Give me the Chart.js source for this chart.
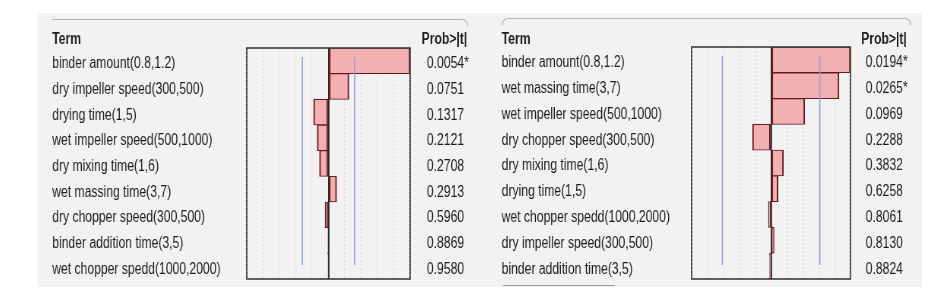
<!DOCTYPE html>
<html>
<head>
<meta charset="utf-8">
<script src="https://cdn.jsdelivr.net/npm/chart.js@4.4.0/dist/chart.umd.min.js"></script>
<style>
    body { margin: 0; width: 944px; height: 294px; overflow: hidden; position: relative; background: #fff; }
    .bg { position: absolute; left: 37px; top: 13px; width: 885px; height: 274px; background: #f2f2f2; }
    .panel { position: absolute; top: 13px; height: 274px; transform: scaleX(0.76); transform-origin: 0 0; }
    #leftPanel { left: 37px; width: 572px; }
    #rightPanel { left: 472px; width: 592px; }
    .rule { position: absolute; border-color: #b4b4b4; border-style: solid; border-width: 0; }
</style>
</head>
<body>
<div class="bg"></div>
<div class="rule" style="left:52px;top:19px;width:415px;height:6px;border-top-width:1px;border-right-width:1px;border-top-right-radius:6px;"></div>
<div class="rule" style="left:502px;top:18px;width:407px;height:6px;border-top-width:1px;border-left-width:1px;border-right-width:1px;border-top-left-radius:6px;border-top-right-radius:6px;"></div>
<div class="rule" style="left:503px;top:285px;width:112px;height:0;border-top-width:1px;border-color:#a0a0a0;"></div>
<div class="panel" id="leftPanel"><canvas id="leftChart" width="572" height="274"></canvas></div>
<div class="panel" id="rightPanel"><canvas id="rightChart" width="592" height="274"></canvas></div>
<script>
// Left report: sorted parameter estimates
const leftTerms = [
    'binder amount(0.8,1.2)',
    'dry impeller speed(300,500)',
    'drying time(1,5)',
    'wet impeller speed(500,1000)',
    'dry mixing time(1,6)',
    'wet massing time(3,7)',
    'dry chopper speed(300,500)',
    'binder addition time(3,5)',
    'wet chopper spedd(1000,2000)'
];
const leftEstimates = [5.0, 1.25, -0.91, -0.69, -0.55, 0.50, -0.21, -0.06, -0.02];
const leftProb = ['0.0054*', '0.0751', '0.1317', '0.2121', '0.2708', '0.2913', '0.5960', '0.8869', '0.9580'];
const leftCrit = 1.6;

// Right report
const rightTerms = [
    'binder amount(0.8,1.2)',
    'wet massing time(3,7)',
    'wet impeller speed(500,1000)',
    'dry chopper speed(300,500)',
    'dry mixing time(1,6)',
    'drying time(1,5)',
    'wet chopper spedd(1000,2000)',
    'dry impeller speed(300,500)',
    'binder addition time(3,5)'
];
const rightEstimates = [5.0, 4.28, 2.12, -1.17, 0.78, 0.44, -0.17, 0.19, -0.10];
const rightProb = ['0.0194*', '0.0265*', '0.0969', '0.2288', '0.3832', '0.6258', '0.8061', '0.8130', '0.8824'];
const rightCrit = 3.07;

const FONT = '"Liberation Sans", Arial, sans-serif';
const TEXT = '#1c1c1c';

/**
 * Box, reference lines and column headers.
 */
const panelDecor = {
    id: 'panelDecor',
    afterDatasetsDraw(chart, args, opts) {
        const { ctx, chartArea: a, scales } = chart;
        ctx.save();
        ctx.strokeStyle = '#8fa0dc';
        ctx.lineWidth = 1.6;
        [-opts.crit, opts.crit].forEach(v => {
            const px = scales.x.getPixelForValue(v);
            ctx.beginPath();
            ctx.moveTo(px, a.top + 9);
            ctx.lineTo(px, a.bottom - 14);
            ctx.stroke();
        });
        ctx.strokeStyle = '#3a3a3a';
        ctx.lineWidth = 1.6;
        ctx.strokeRect(a.left, a.top, a.right - a.left, a.bottom - a.top);

        ctx.font = `bold 16px ${FONT}`;
        ctx.fillStyle = TEXT;
        ctx.textBaseline = 'alphabetic';
        ctx.textAlign = 'left';
        ctx.fillText('Term', scales.y.left, opts.headerY);
        ctx.fillText('Prob>|t|', scales.y2.left + opts.probX, opts.headerY);
        ctx.restore();
    }
};

const makePanel = (canvasId, terms, estimates, prob, crit, geom) => {
    return new Chart(document.getElementById(canvasId), {
        type: 'bar',
        data: {
            labels: terms,
            datasets: [{
                data: estimates,
                backgroundColor: '#f2b0b2',
                borderColor: '#641a1e',
                borderWidth: { top: 1, bottom: 1, left: 2, right: 2 },
                borderSkipped: false,
                barPercentage: 1,
                categoryPercentage: 1
            }]
        },
        options: {
            indexAxis: 'y',
            responsive: false,
            animation: false,
            layout: { padding: { left: geom.padLeft, top: geom.padTop, bottom: geom.padBottom, right: 0 } },
            scales: {
                x: {
                    min: -5,
                    max: 5,
                    ticks: { display: false, stepSize: 1 },
                    grid: {
                        drawTicks: false,
                        color: c => (c.tick && (c.tick.value === 0 || Math.abs(c.tick.value) === 5)) ? '#2a2a2a' : 'rgba(228,165,165,0.42)',
                        lineWidth: c => (c.tick && c.tick.value === 0) ? 1.8 : 1.2
                    },
                    border: { display: false, dash: c => (c.tick && c.tick.value === 0) ? [] : [2, 2] },
                    afterFit: s => { s.height = 0; }
                },
                y: {
                    position: 'left',
                    grid: { display: false, drawTicks: false },
                    border: { display: false },
                    ticks: {
                        autoSkip: false,
                        crossAlign: 'far',
                        padding: 0,
                        labelOffset: 3,
                        color: TEXT,
                        font: { family: FONT, size: 16, lineHeight: 1 }
                    },
                    afterFit: s => { s.width = geom.labelWidth; }
                },
                y2: {
                    type: 'category',
                    labels: prob,
                    position: 'right',
                    offset: true,
                    // the hidden tick length gives the gap between box and p-values
                    grid: { display: false, drawTicks: true, tickLength: geom.probPad },
                    border: { display: false },
                    ticks: {
                        autoSkip: false,
                        crossAlign: 'near',
                        padding: 0,
                        labelOffset: 3,
                        color: TEXT,
                        font: { family: FONT, size: 16, lineHeight: 1 }
                    },
                    afterFit: s => { s.width = geom.probWidth; }
                }
            },
            plugins: {
                legend: { display: false },
                tooltip: { enabled: false },
                panelDecor: { crit, headerY: 31, probX: geom.probHeadX }
            }
        },
        plugins: [panelDecor]
    });
};

makePanel('leftChart', leftTerms, leftEstimates, leftProb, leftCrit,
    { padLeft: 20, padTop: 35, padBottom: 8, labelWidth: 256, probWidth: 81, probPad: 22, probHeadX: 15 });
makePanel('rightChart', rightTerms, rightEstimates, rightProb, rightCrit,
    { padLeft: 39, padTop: 34, padBottom: 8, labelWidth: 250, probWidth: 94, probPad: 20, probHeadX: 14 });
</script>
</body>
</html>
